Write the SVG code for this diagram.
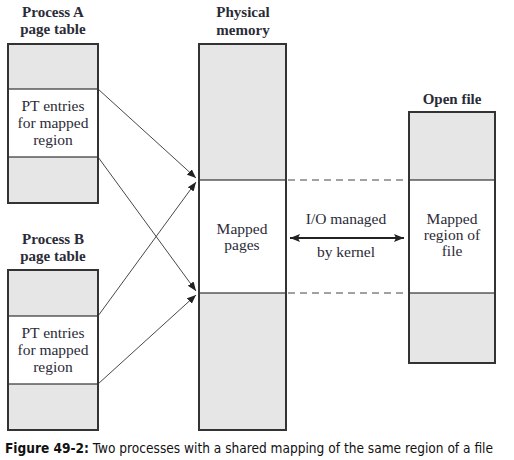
<svg xmlns="http://www.w3.org/2000/svg" width="514" height="460" viewBox="0 0 514 460">
<defs>
<style>
.box{fill:#e6e6e7;stroke:#333;stroke-width:2}
.mid{fill:#fff;stroke:#333;stroke-width:1.2}
.hd{font-family:"Liberation Serif",serif;font-weight:bold;font-size:15px;fill:#2b2b38;text-anchor:middle}
.tx{font-family:"Liberation Serif",serif;font-size:15.5px;fill:#2b2b38;text-anchor:middle}
.ln{stroke:#333;stroke-width:0.9;fill:none}
.dash{stroke:#444;stroke-width:1;stroke-dasharray:7,5;fill:none}
</style>
<marker id="ah" viewBox="0 0 10 10" refX="10" refY="5" markerWidth="9" markerHeight="9" markerUnits="userSpaceOnUse" orient="auto">
<path d="M0,1 L10,5 L0,9 Z" fill="#222"/>
</marker>
<marker id="ah2" viewBox="0 0 10 10" refX="10" refY="5" markerWidth="10" markerHeight="10" markerUnits="userSpaceOnUse" orient="auto-start-reverse">
<path d="M0,1 L10,5 L0,9 L2,5 Z" fill="#222"/>
</marker>
</defs>
<rect width="514" height="460" fill="#fff"/>

<g id="procA">
<text class="hd" x="53" y="17">Process A</text>
<text class="hd" x="53" y="34">page table</text>
<rect class="box" x="8" y="44" width="90" height="159"/>
<rect class="mid" x="8" y="89" width="90" height="68"/>
<line x1="8" y1="44" x2="8" y2="203" stroke="#333" stroke-width="2"/>
<line x1="98" y1="44" x2="98" y2="203" stroke="#333" stroke-width="2"/>
<text class="tx" x="53" y="111">PT entries</text>
<text class="tx" x="53" y="128">for mapped</text>
<text class="tx" x="53" y="145">region</text>
</g>

<g id="procB">
<text class="hd" x="53" y="244">Process B</text>
<text class="hd" x="53" y="261">page table</text>
<rect class="box" x="8" y="270" width="90" height="160"/>
<rect class="mid" x="8" y="316" width="90" height="68"/>
<line x1="8" y1="270" x2="8" y2="430" stroke="#333" stroke-width="2"/>
<line x1="98" y1="270" x2="98" y2="430" stroke="#333" stroke-width="2"/>
<text class="tx" x="53" y="338">PT entries</text>
<text class="tx" x="53" y="355">for mapped</text>
<text class="tx" x="53" y="372">region</text>
</g>

<g id="physmem">
<text class="hd" x="243" y="17">Physical</text>
<text class="hd" x="243" y="35">memory</text>
<rect class="box" x="199" y="44" width="87" height="386"/>
<rect class="mid" x="199" y="180" width="87" height="113"/>
<line x1="199" y1="44" x2="199" y2="430" stroke="#333" stroke-width="2"/>
<line x1="286" y1="44" x2="286" y2="430" stroke="#333" stroke-width="2"/>
<text class="tx" x="242" y="234">Mapped</text>
<text class="tx" x="242" y="250">pages</text>
</g>

<g id="openfile">
<text class="hd" x="452" y="104">Open file</text>
<rect class="box" x="409" y="112" width="86" height="251"/>
<rect class="mid" x="409" y="180" width="86" height="113"/>
<line x1="409" y1="112" x2="409" y2="363" stroke="#333" stroke-width="2"/>
<line x1="495" y1="112" x2="495" y2="363" stroke="#333" stroke-width="2"/>
<text class="tx" x="452" y="224">Mapped</text>
<text class="tx" x="452" y="240">region of</text>
<text class="tx" x="452" y="256">file</text>
</g>

<g id="connectors">
<line class="ln" x1="98" y1="89" x2="196" y2="178" marker-end="url(#ah)"/>
<line class="ln" x1="98" y1="157" x2="196" y2="291" marker-end="url(#ah)"/>
<line class="ln" x1="98" y1="316" x2="196" y2="182" marker-end="url(#ah)"/>
<line class="ln" x1="98" y1="384" x2="196" y2="295" marker-end="url(#ah)"/>
<line class="dash" x1="288" y1="180" x2="408" y2="180"/>
<line class="dash" x1="288" y1="293" x2="408" y2="293"/>
<line x1="290" y1="238" x2="404" y2="238" stroke="#222" stroke-width="2" marker-start="url(#ah2)" marker-end="url(#ah2)"/>
<text class="tx" x="346" y="224">I/O managed</text>
<text class="tx" x="346" y="257">by kernel</text>
</g>

<text x="5" y="453" font-family="'Liberation Sans Narrow','DejaVu Sans Condensed','Liberation Sans',sans-serif" font-size="14" fill="#111" textLength="488" lengthAdjust="spacingAndGlyphs"><tspan font-weight="bold">Figure 49-2:</tspan> Two processes with a shared mapping of the same region of a file</text>
</svg>
